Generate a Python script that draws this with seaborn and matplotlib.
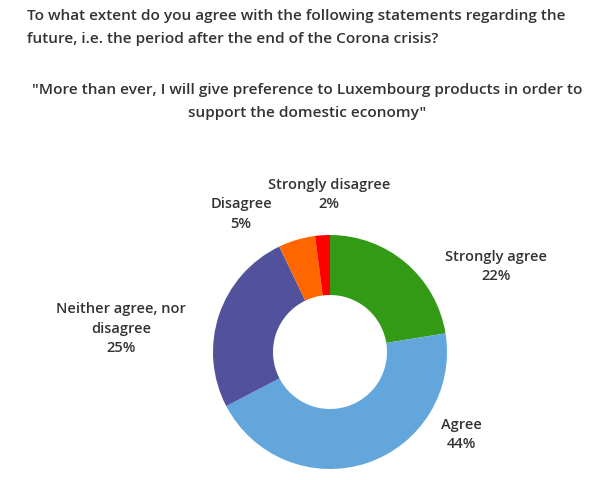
import seaborn as sns
import matplotlib.pyplot as plt

# data
categories = ["Strongly agree", "Agree", "Neither agree, nor\ndisagree", "Disagree", "Strongly disagree"]
shares = [22, 44, 25, 5, 2]
slice_colors = ["#339a16", "#62a6dc", "#52519b", "#ff6600", "#ff0000"]

title = "To what extent do you agree with the following statements regarding the\nfuture, i.e. the period after the end of the Corona crisis?"
subtitle = "\"More than ever, I will give preference to Luxembourg products in order to\nsupport the domestic economy\""

sns.set_style("white")
plt.rcParams["font.family"] = ["Open Sans", "DejaVu Sans"]
txt = "#333333"

fig = plt.figure(figsize=(6, 4.8), dpi=100)
ax = fig.add_axes([0, 0, 1, 1])

pal = sns.color_palette(slice_colors)
ax.pie(shares, colors=pal, startangle=90, counterclock=False,
       center=(330, 128), radius=117, frame=True,
       wedgeprops=dict(width=60, linewidth=0))
ax.set_xlim(0, 600)
ax.set_ylim(0, 480)
ax.set_aspect("equal")
ax.axis("off")

# label positions in pixels (x, y of first line centre)
label_pos = [(496, 258), (461, 426), (121, 310), (241, 205), (329, 186)]
for name, val, (px, py) in zip(categories, shares, label_pos):
    ax.text(px, 480 - py + 8, f"{name}\n{val}%", ha="center", va="top",
            fontsize=10.5, fontweight="semibold", color=txt, linespacing=1.5)

fig.text(27 / 600, 1 - 9 / 480, title, ha="left", va="top", fontsize=11.1,
         fontweight="semibold", color=txt, linespacing=1.85)
fig.text(307 / 600, 1 - 83 / 480, subtitle, ha="center", va="top", fontsize=11.1,
         fontweight="semibold", color=txt, linespacing=1.85)

fig.savefig("out.png", dpi=100)
